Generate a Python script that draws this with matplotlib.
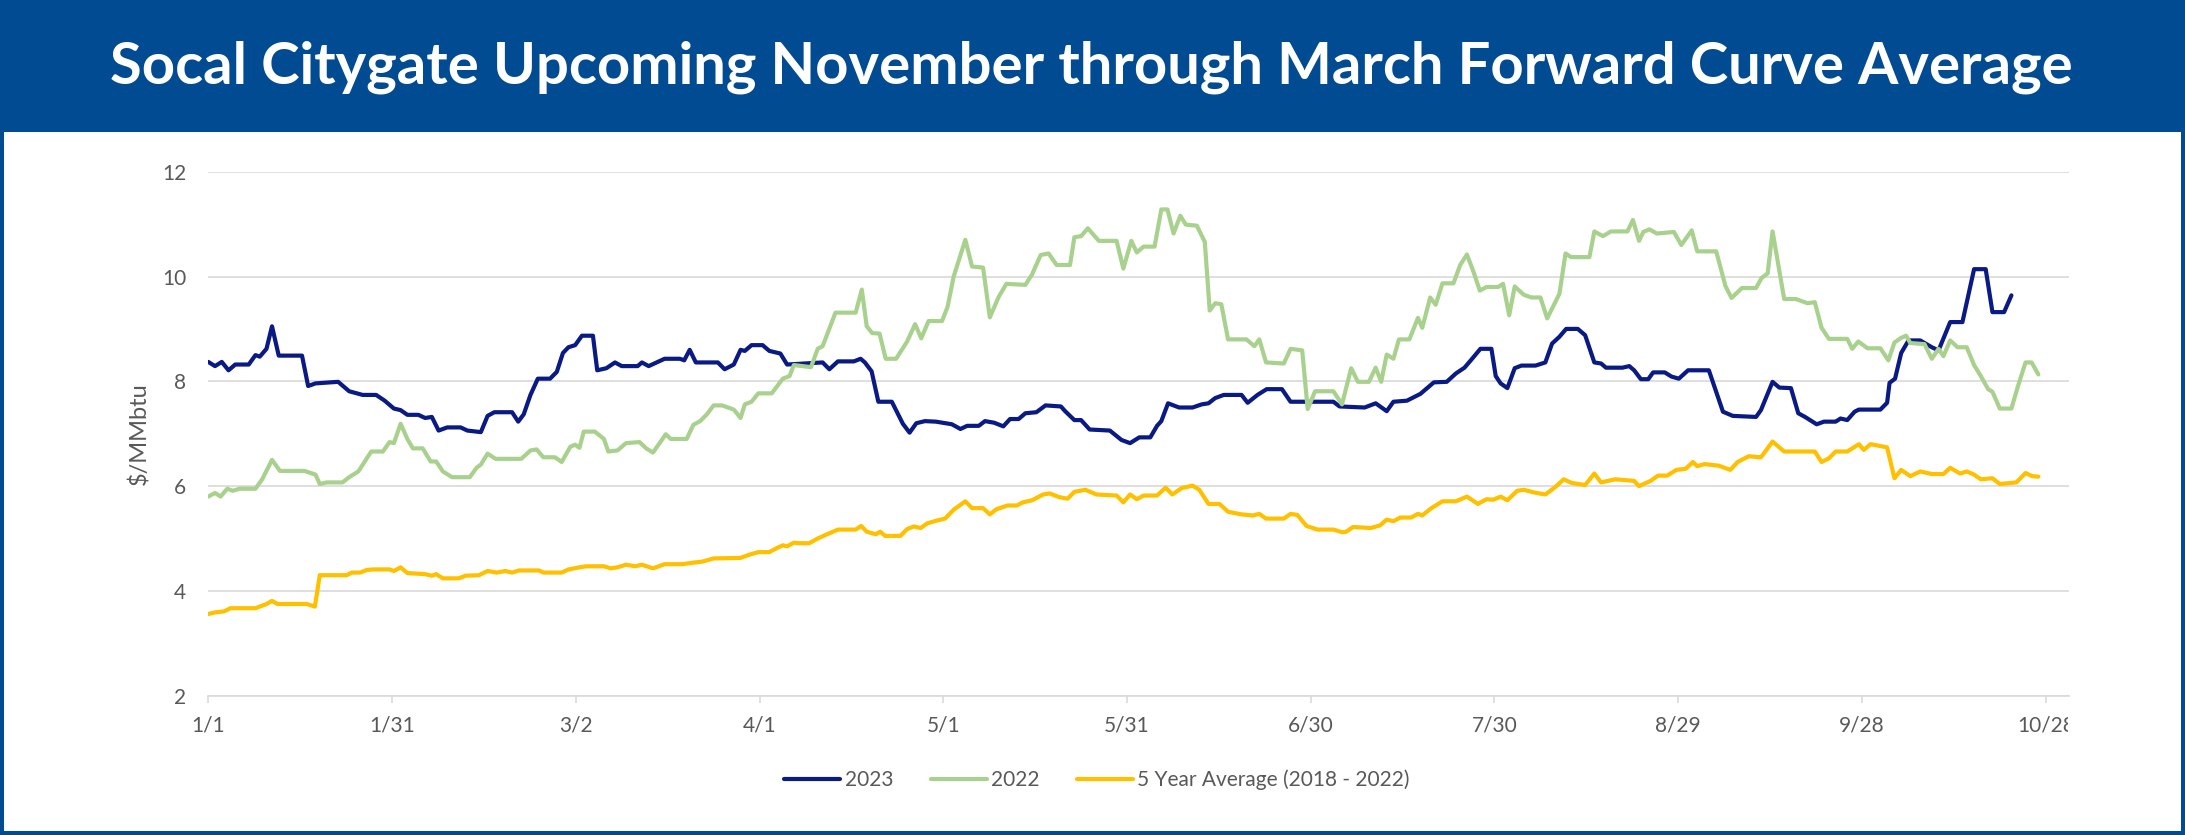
import matplotlib
matplotlib.use("Agg")
import matplotlib.pyplot as plt
from matplotlib.patches import Rectangle
from matplotlib.transforms import Bbox, TransformedBbox

# ---- data (day offset from 1/1, $/MMbtu) ----
days_2023 = [0, 1.1, 2.2, 3.3, 4.4, 6.6, 7.7, 8.4, 9.5, 10.4, 11.5, 15.3, 16.3, 17.5, 21.2, 23, 25.2,
             27.4, 28.8, 30.3, 31.4, 32.5, 34.3, 35.4, 36.5, 37.6, 39, 41.2, 42.3, 44.5, 45.6, 46.7,
             49.6, 50.6, 51.5, 52.6, 53.8, 55.8, 56.9, 57.9, 58.8, 59.9, 61, 62.8, 63.5, 65, 66.4,
             67.5, 70.1, 70.8, 71.9, 74.5, 77, 77.7, 78.6, 79.6, 83.2, 84.3, 85.8, 86.9, 87.6, 88.7,
             90.5, 91.6, 93.4, 94.5, 100.3, 101.4, 102.8, 105.4, 106.5, 107.2, 108.3, 109.4, 111.6,
             113.4, 114.5, 115.6, 117, 118.8, 121.4, 122.8, 123.9, 125.8, 126.8, 128.3, 129.8, 130.9,
             132.3, 133.4, 135.2, 136.7, 139.2, 139.9, 141.4, 142.5, 143.9, 147.2, 149.1, 150.5, 152,
             153.8, 154.9, 155.6, 156.7, 158.5, 160.7, 162.2, 163.3, 164.4, 165.8, 168.7, 169.7,
             171.3, 172.8, 175.3, 176.7, 183.7, 184.7, 188.8, 190.6, 192.4, 193.5, 195.7, 197.9,
             200.1, 202.2, 203.7, 205.1, 206.2, 207.7, 209.5, 210.2, 211, 212.1, 213.3, 214.4, 216.7,
             218.3, 219.4, 220.6, 221.7, 223.6, 224.8, 226.3, 227.4, 228.2, 230.9, 232, 232.8, 233.9,
             235.1, 235.9, 237.8, 238.9, 240.1, 241.6, 245, 246.2, 247.3, 248.9, 252.7, 253.5, 255.4,
             256.5, 258.4, 259.6, 260.7, 262.6, 263.8, 265.7, 266.5, 267.6, 268.8, 269.5, 273, 274.1,
             274.5, 275.4, 276.4, 277.6, 279.5, 281.4, 282.5, 284.4, 286.4, 288.3, 290.2, 291.3,
             293.2, 294.4]
vals_2023 = [8.37, 8.29, 8.37, 8.21, 8.32, 8.32, 8.50, 8.47, 8.62, 9.05, 8.49, 8.49, 7.91, 7.96, 7.99,
             7.81, 7.74, 7.74, 7.63, 7.48, 7.45, 7.36, 7.36, 7.30, 7.32, 7.06, 7.12, 7.12, 7.06, 7.03,
             7.34, 7.41, 7.41, 7.23, 7.37, 7.74, 8.05, 8.05, 8.18, 8.54, 8.65, 8.69, 8.87, 8.87, 8.21,
             8.25, 8.36, 8.29, 8.29, 8.36, 8.29, 8.43, 8.43, 8.40, 8.60, 8.36, 8.36, 8.23, 8.32, 8.60,
             8.58, 8.69, 8.69, 8.58, 8.53, 8.32, 8.36, 8.23, 8.38, 8.38, 8.43, 8.36, 8.19, 7.61, 7.61,
             7.19, 7.02, 7.20, 7.24, 7.23, 7.18, 7.09, 7.15, 7.15, 7.24, 7.21, 7.14, 7.28, 7.28, 7.39,
             7.41, 7.54, 7.52, 7.43, 7.26, 7.26, 7.08, 7.06, 6.88, 6.82, 6.93, 6.93, 7.15, 7.24, 7.58,
             7.50, 7.50, 7.56, 7.58, 7.68, 7.74, 7.74, 7.59, 7.74, 7.85, 7.85, 7.61, 7.61, 7.52, 7.50,
             7.58, 7.43, 7.61, 7.63, 7.76, 7.98, 7.99, 8.15, 8.26, 8.41, 8.62, 8.62, 8.10, 7.96, 7.87,
             8.25, 8.30, 8.30, 8.36, 8.72, 8.85, 9.00, 9.00, 8.88, 8.36, 8.34, 8.26, 8.26, 8.29, 8.21,
             8.04, 8.04, 8.17, 8.17, 8.09, 8.05, 8.21, 8.21, 7.80, 7.42, 7.34, 7.32, 7.45, 7.99, 7.88,
             7.87, 7.39, 7.32, 7.18, 7.23, 7.23, 7.29, 7.26, 7.42, 7.46, 7.46, 7.59, 7.97, 8.05, 8.54,
             8.78, 8.78, 8.65, 8.59, 9.13, 9.13, 10.14, 10.14, 9.32, 9.32, 9.64]

days_2022 = [0, 1.1, 2, 3.1, 4, 5.1, 7.7, 8.8, 10.4, 11.7, 15.7, 17.5, 18.2, 19.3, 21.9, 23, 24.5, 25.5,
             26.6, 28.5, 29.6, 30.3, 31.4, 32.5, 33.4, 35, 36.3, 37.2, 38.3, 39.8, 42.7, 43.8, 44.5,
             45.6, 46.9, 51.1, 52.6, 53.6, 54.7, 56.6, 57.7, 59.1, 59.9, 60.6, 61.3, 63.1, 64.6, 65.3,
             66.8, 68.2, 70.4, 71.5, 72.6, 74.7, 75.5, 78.1, 79.2, 80.3, 81.4, 82.5, 83.9, 85.8, 86.9,
             87.6, 88.7, 89.8, 92, 93.8, 94.9, 95.6, 98.4, 99.5, 100.3, 102.4, 105.7, 106.7, 107.5,
             108.4, 109.6, 110.6, 112.3, 114.1, 115.4, 116.4, 117.6, 119.8, 120.7, 121.7, 123.6,
             124.7, 126.5, 127.6, 129, 130.3, 133.4, 134.5, 135.9, 137.2, 138.5, 140.7, 141.4, 142.5,
             143.6, 145.4, 148.3, 149.4, 150.7, 151.6, 152.7, 154.5, 155.6, 156.6, 157.6, 158.7,
             159.6, 161.4, 162.7, 163.5, 164.4, 165.4, 166.5, 169.5, 170.8, 171.6, 172.7, 175.6,
             176.7, 178.6, 179.5, 180.7, 183.7, 185.1, 186.6, 187.7, 189.5, 190.6, 191.5, 192.4,
             193.5, 194.4, 196.1, 197.5, 198.2, 199.5, 200.4, 201.5, 203.3, 204.4, 205.5, 206.6,
             207.6, 208.7, 210.6, 211.4, 212.4, 213.3, 214.8, 216, 217.5, 218.6, 220.6, 221.6, 222.5,
             225.5, 226.3, 227.7, 229, 231.7, 232.6, 233.6, 234.3, 235.3, 236.5, 239.3, 240.5, 242.2,
             243.1, 246.2, 247.7, 248.7, 250.4, 252.7, 253.6, 254.6, 255.4, 257.3, 259.2, 261.1,
             262.3, 263.4, 264.6, 267.6, 268.4, 269.4, 270.9, 273, 274.3, 275.3, 276.4, 277.2, 277.9,
             280.2, 281.4, 282.5, 283.3, 284.4, 285.6, 287.1, 288.3, 289.4, 290.6, 291.3, 292.5,
             294.4, 295.5, 296.7, 297.7, 298.8]
vals_2022 = [5.80, 5.87, 5.80, 5.95, 5.91, 5.95, 5.95, 6.13, 6.50, 6.29, 6.29, 6.22, 6.04, 6.07, 6.07,
             6.17, 6.28, 6.46, 6.66, 6.66, 6.84, 6.82, 7.19, 6.90, 6.72, 6.72, 6.47, 6.47, 6.28, 6.17,
             6.17, 6.35, 6.41, 6.62, 6.52, 6.52, 6.68, 6.70, 6.55, 6.55, 6.46, 6.75, 6.79, 6.73, 7.04,
             7.04, 6.90, 6.66, 6.68, 6.82, 6.84, 6.72, 6.64, 6.99, 6.90, 6.90, 7.17, 7.24, 7.37, 7.54,
             7.54, 7.46, 7.30, 7.56, 7.61, 7.77, 7.77, 8.05, 8.10, 8.31, 8.27, 8.62, 8.67, 9.31, 9.31,
             9.75, 9.05, 8.92, 8.91, 8.43, 8.43, 8.76, 9.09, 8.82, 9.15, 9.15, 9.42, 10.00, 10.70,
             10.19, 10.17, 9.22, 9.60, 9.86, 9.84, 10.04, 10.41, 10.44, 10.22, 10.22, 10.75, 10.77,
             10.92, 10.68, 10.68, 10.15, 10.68, 10.46, 10.57, 10.57, 11.28, 11.28, 10.82, 11.16,
             10.99, 10.97, 10.66, 9.35, 9.49, 9.47, 8.80, 8.80, 8.67, 8.80, 8.36, 8.34, 8.62, 8.59,
             7.47, 7.81, 7.81, 7.56, 8.25, 7.99, 7.99, 8.26, 7.99, 8.51, 8.43, 8.80, 8.80, 9.21, 9.02,
             9.60, 9.46, 9.87, 9.87, 10.22, 10.42, 10.08, 9.73, 9.80, 9.80, 9.86, 9.26, 9.81, 9.65,
             9.60, 9.60, 9.20, 9.67, 10.44, 10.37, 10.37, 10.86, 10.77, 10.86, 10.86, 11.08, 10.68,
             10.85, 10.90, 10.82, 10.85, 10.60, 10.88, 10.48, 10.48, 9.82, 9.59, 9.78, 9.78, 9.97,
             10.06, 10.86, 9.57, 9.57, 9.49, 9.51, 9.02, 8.81, 8.81, 8.62, 8.76, 8.63, 8.63, 8.40,
             8.74, 8.83, 8.87, 8.73, 8.71, 8.43, 8.62, 8.48, 8.78, 8.65, 8.65, 8.31, 8.10, 7.85, 7.80,
             7.48, 7.48, 7.92, 8.36, 8.36, 8.13]

days_avg = [0, 1.1, 2.6, 3.6, 7.7, 9.5, 10.4, 11.3, 16.1, 17.4, 18.2, 22.6, 23.4, 24.8, 25.9, 27, 29.6,
            30.3, 31.4, 32.5, 35.4, 36.5, 37.2, 38.3, 40.9, 42, 44.2, 45.6, 47.1, 48.5, 49.6, 50.7,
            54, 54.7, 57.7, 58.8, 60.6, 61.7, 64.6, 65.7, 66.8, 68.2, 69.7, 70.8, 72.6, 74.5, 77.4,
            79.2, 80.7, 82.5, 86.9, 88.3, 89.8, 91.6, 92.7, 93.8, 94.5, 95.6, 96.7, 98.1, 99.5, 101,
            102.8, 105.7, 106.6, 107.5, 109, 109.7, 110.5, 113, 114.1, 115.2, 116.3, 117.4, 119.2,
            120.3, 121.7, 123.6, 124.7, 126.5, 127.6, 128.7, 130.5, 132, 133, 134.5, 136.3, 137.4,
            138.9, 140.3, 141.4, 143.2, 145, 148.3, 149.4, 150.5, 151.6, 152.7, 154.9, 156.3, 157.4,
            158.9, 160.7, 161.8, 163.3, 165.1, 166.5, 168.7, 170.5, 171.6, 172.7, 175.6, 176.7,
            177.8, 179.3, 181.1, 183.7, 185.1, 185.8, 186.9, 189.8, 191.3, 192.4, 193.5, 194.6,
            196.4, 197.5, 198.2, 199.7, 201.5, 203.7, 205.5, 207.3, 208.7, 209.8, 211, 212.1, 213.7,
            214.8, 216.4, 218.3, 219.8, 221.3, 222.6, 224.8, 226.3, 227.4, 229.7, 232.8, 233.6,
            235.5, 236.7, 238.2, 239.7, 241.2, 242.4, 243.1, 244.3, 246.6, 248.5, 249.7, 251.5,
            253.5, 255.4, 257.3, 262.3, 263.4, 264.6, 265.7, 267.6, 269.5, 270.3, 271.4, 274.1,
            275.3, 276.4, 277.9, 279.5, 281.4, 283.3, 284.4, 286, 287.1, 288.3, 289.4, 291.3, 292.5,
            295.2, 296.7, 297.8, 298.8]
vals_avg = [3.56, 3.59, 3.61, 3.67, 3.67, 3.75, 3.81, 3.75, 3.75, 3.70, 4.30, 4.30, 4.35, 4.35, 4.40,
            4.41, 4.41, 4.38, 4.45, 4.34, 4.32, 4.29, 4.32, 4.24, 4.24, 4.29, 4.30, 4.38, 4.35, 4.38,
            4.35, 4.39, 4.39, 4.35, 4.35, 4.41, 4.45, 4.47, 4.47, 4.43, 4.45, 4.50, 4.47, 4.50, 4.43,
            4.51, 4.51, 4.54, 4.56, 4.62, 4.63, 4.69, 4.74, 4.74, 4.81, 4.87, 4.85, 4.92, 4.91, 4.91,
            5.00, 5.08, 5.17, 5.17, 5.24, 5.13, 5.08, 5.13, 5.05, 5.05, 5.18, 5.23, 5.20, 5.29, 5.35,
            5.38, 5.55, 5.71, 5.58, 5.58, 5.46, 5.56, 5.63, 5.63, 5.69, 5.73, 5.84, 5.86, 5.79, 5.76,
            5.89, 5.93, 5.84, 5.82, 5.69, 5.84, 5.75, 5.82, 5.82, 5.97, 5.84, 5.96, 6.01, 5.93, 5.66,
            5.66, 5.51, 5.46, 5.44, 5.47, 5.38, 5.38, 5.47, 5.45, 5.24, 5.17, 5.17, 5.12, 5.13, 5.22,
            5.20, 5.25, 5.36, 5.33, 5.40, 5.40, 5.47, 5.44, 5.58, 5.71, 5.71, 5.80, 5.66, 5.75, 5.74,
            5.80, 5.73, 5.91, 5.93, 5.88, 5.84, 5.97, 6.13, 6.06, 6.02, 6.24, 6.07, 6.13, 6.10, 6.00,
            6.10, 6.20, 6.20, 6.31, 6.33, 6.46, 6.38, 6.42, 6.39, 6.31, 6.46, 6.57, 6.55, 6.85, 6.66,
            6.66, 6.46, 6.53, 6.66, 6.66, 6.80, 6.69, 6.80, 6.74, 6.15, 6.31, 6.19, 6.28, 6.23, 6.23,
            6.35, 6.24, 6.28, 6.22, 6.13, 6.15, 6.04, 6.07, 6.25, 6.19, 6.18]

tick_days = [0, 30, 60, 90, 120, 150, 180, 210, 240, 270, 300]
tick_labels = ["1/1", "1/31", "3/2", "4/1", "5/1", "5/31", "6/30", "7/30", "8/29", "9/28", "10/28"]
y_ticks = [2, 4, 6, 8, 10, 12]

series = [
    ("2023", days_2023, vals_2023, "#0A1A84"),
    ("2022", days_2022, vals_2022, "#A9D18E"),
    ("5 Year Average (2018 - 2022)", days_avg, vals_avg, "#FFC000"),
]

HEADER_BLUE = "#014B92"
GRID_GRAY = "#D9D9D9"
TEXT_GRAY = "#595959"
W, H = 2185, 835

plt.rcParams["font.family"] = ["Lato", "DejaVu Sans"]

fig = plt.figure(figsize=(W / 100, H / 100), dpi=100)
fig.patch.set_facecolor("white")

# header band and frame
fig.patches.append(Rectangle((0, 1 - 132 / H), 1, 132 / H, transform=fig.transFigure,
                             facecolor=HEADER_BLUE, edgecolor="none", zorder=0))
fig.patches.append(Rectangle((2 / W, 2 / H), 1 - 4 / W, 1 - 4 / H, transform=fig.transFigure,
                             facecolor="none", edgecolor=HEADER_BLUE, linewidth=2.9, zorder=0))

title = fig.text(1091 / W, 1 - 83 / H, "Socal Citygate Upcoming November through March Forward Curve Average",
                 ha="center", va="baseline", color="white", fontsize=36, fontweight="bold")
# fit title to the width seen in the reference
fig.canvas.draw()
tw = title.get_window_extent().width
title.set_fontsize(36 * 1960 / tw)

ax = fig.add_axes([208.3 / W, 1 - 695.7 / H, (2069 - 208.3) / W, (695.7 - 171.7) / H])

for name, d, v, c in series:
    ax.plot(d, v, color=c, linewidth=3.0, label=name, solid_joinstyle="round", solid_capstyle="round")

ax.set_xlim(0, 303.8)
ax.set_ylim(2, 12)
ax.set_yticks(y_ticks)
ax.set_xticks(tick_days)
ax.set_xticklabels(tick_labels)
ax.yaxis.grid(True, color=GRID_GRAY, linewidth=1.2)
ax.set_axisbelow(True)
for s in ["top", "right", "left"]:
    ax.spines[s].set_visible(False)
ax.spines["bottom"].set_color(GRID_GRAY)
ax.spines["bottom"].set_linewidth(1.2)
ax.tick_params(axis="y", length=0, pad=16, labelsize=15, labelcolor=TEXT_GRAY)
ax.tick_params(axis="x", length=5, width=1.2, color=GRID_GRAY, pad=9, labelsize=15,
               labelcolor=TEXT_GRAY)

# last date label is cut at the plot edge in the reference
clip = TransformedBbox(Bbox.from_extents(0, 0, 2068 / W, 1), fig.transFigure)
for lab in ax.get_xticklabels():
    lab.set_clip_box(clip)
    lab.set_clip_on(True)

fig.text(139 / W, 1 - 434 / H, "$/MMbtu", rotation=90, ha="center", va="center",
         fontsize=17, color=TEXT_GRAY)

ax.legend(loc="center", bbox_to_anchor=(1097 / W, 1 - 780 / H), bbox_transform=fig.transFigure,
          ncol=3, frameon=False, fontsize=15, labelcolor=TEXT_GRAY, handlelength=2.7,
          handletextpad=0.2, columnspacing=1.8)

fig.savefig("out.png", dpi=100, facecolor=fig.get_facecolor())
